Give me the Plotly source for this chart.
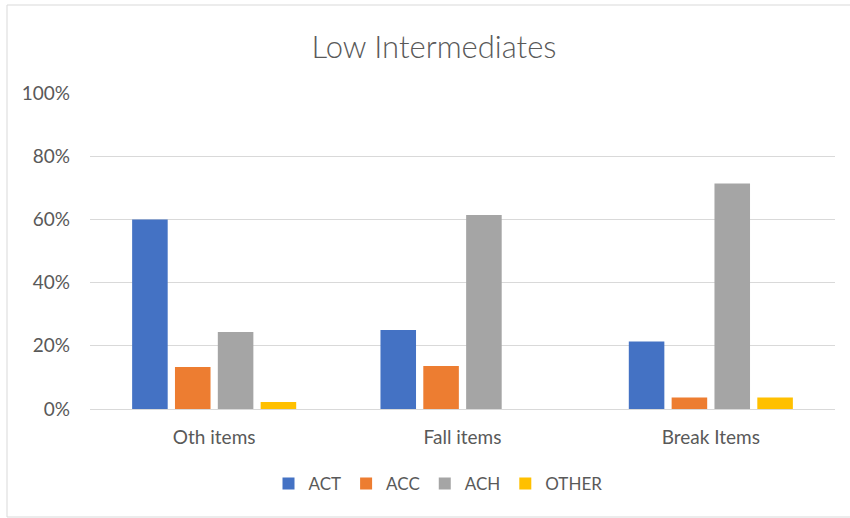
import plotly.graph_objects as go

categories = ["Oth items", "Fall items", "Break Items"]
series_names = ["ACT", "ACC", "ACH", "OTHER"]
act = [0.600, 0.250, 0.214]
acc = [0.133, 0.136, 0.036]
ach = [0.244, 0.614, 0.714]
other = [0.022, 0.0, 0.036]
colors = ["#4472C4", "#ED7D31", "#A5A5A5", "#FFC000"]
tick_vals = [0, 0.2, 0.4, 0.6, 0.8, 1.0]
tick_text = ["0%", "20%", "40%", "60%", "80%", "100%"]

FONT = "Lato"
TXT = "#595959"

fig = go.Figure()
for name, vals, col in zip(series_names, [act, acc, ach, other], colors):
    fig.add_trace(go.Bar(x=categories, y=vals, name=name, marker_color=col,
                         marker_line_width=0))

L, R, T, B = 90, 15, 93, 109
W, H = 850, 518
pw, ph = W - L - R, H - T - B

fig.update_layout(
    width=W, height=H,
    margin=dict(l=L, r=R, t=T, b=B),
    paper_bgcolor="white", plot_bgcolor="white",
    barmode="group", bargap=0.31, bargroupgap=0.17,
    title=dict(text="Low Intermediates", x=434 / W, xanchor="center", y=1 - 47 / H,
               yanchor="middle",
               font=dict(family=FONT, size=31, color=TXT, weight=300)),
    font=dict(family=FONT, size=17, color=TXT),
    legend=dict(orientation="h", x=(438 - L) / pw, xanchor="center",
                y=-(484 - T - ph) / ph, yanchor="middle",
                font=dict(family=FONT, size=17, color=TXT),
                traceorder="normal", itemwidth=30),
    showlegend=True,
)
fig.update_yaxes(range=[0, 1.0], tickvals=tick_vals, ticktext=tick_text,
                 showgrid=True, gridcolor="#D9D9D9", gridwidth=1,
                 zeroline=False, showline=False, ticks="",
                 tickfont=dict(family=FONT, size=19, color=TXT), ticklabelstandoff=19)
fig.update_xaxes(showgrid=False, showline=True, linecolor="#D9D9D9", linewidth=1,
                 ticks="", tickfont=dict(family=FONT, size=19, color=TXT),
                 ticklabelstandoff=11)

# outer chart frame
fig.add_shape(type="rect", xref="paper", yref="paper",
              x0=(7 - L) / pw, x1=(870 - L) / pw,
              y0=-(517 - T - ph) / ph, y1=1 + (T - 5) / ph,
              line=dict(color="#D9D9D9", width=1), fillcolor="rgba(0,0,0,0)",
              layer="below")

fig.write_html("out.html", config={"displayModeBar": False},
               post_script="document.body.style.margin='0';")
